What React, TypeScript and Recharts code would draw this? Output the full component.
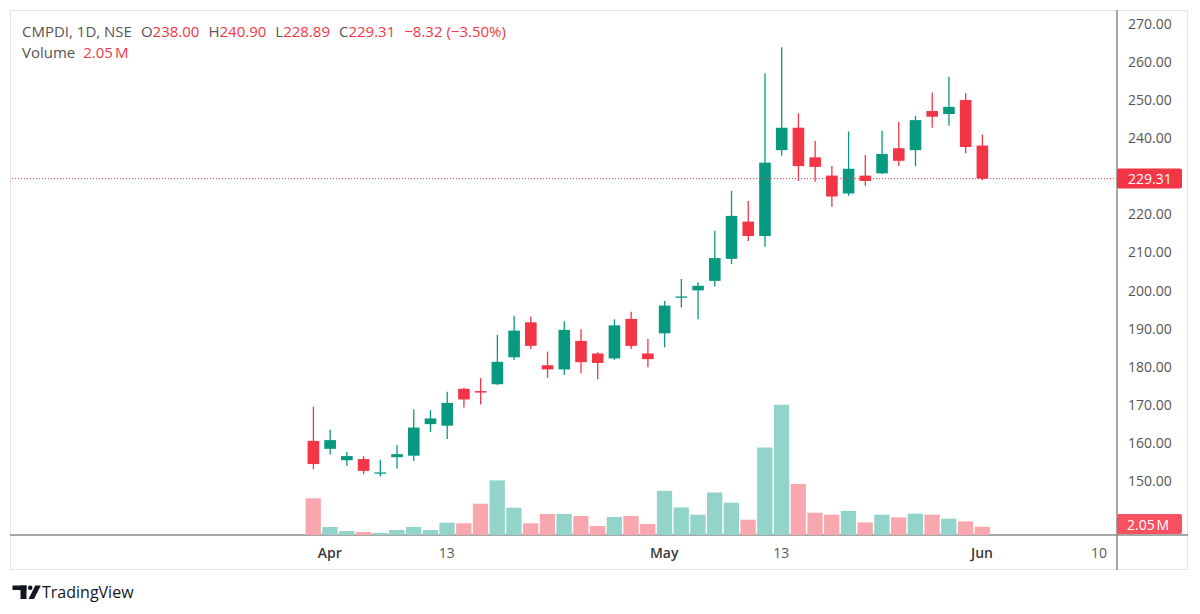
import { Bar, Cell, ComposedChart, ReferenceLine, XAxis, YAxis } from "recharts";

// daily OHLC (index 0 = last March session)
const opens = [
  160.3, 158.2, 155.2, 155.5, 151.8, 156.0, 156.4, 164.7, 164.3, 174.0, 173.4,
  175.2, 182.3, 191.5, 180.2, 179.1, 186.6, 183.3, 182.0, 192.4, 183.3, 188.6,
  198.0, 199.9, 202.4, 208.2, 218.0, 214.2, 236.8, 242.7, 234.9, 230.1, 225.4,
  230.1, 230.7, 237.3, 236.8, 247.1, 246.3, 250.0, 238.0,
];
const highs = [
  169.3, 163.2, 157.4, 156.3, 155.3, 159.2, 168.6, 168.4, 173.2, 174.3, 176.8,
  188.2, 193.2, 193.0, 183.8, 191.8, 189.7, 183.6, 192.3, 194.3, 187.1, 197.1,
  202.9, 202.0, 215.6, 226.1, 223.4, 257.0, 263.9, 246.5, 239.2, 232.6, 241.7,
  235.5, 241.9, 244.2, 245.8, 252.0, 256.1, 251.8, 240.9,
];
const lows = [
  152.8, 156.7, 153.7, 151.5, 150.9, 153.0, 155.0, 162.6, 160.8, 169.1, 169.9,
  175.0, 181.6, 184.5, 176.9, 177.6, 178.1, 176.5, 181.6, 184.5, 179.7, 184.9,
  195.4, 192.3, 200.9, 206.8, 212.9, 211.4, 235.3, 228.7, 228.5, 221.9, 224.8,
  227.4, 230.5, 232.6, 232.6, 242.7, 243.2, 236.0, 228.89,
];
const closes = [
  154.2, 160.5, 156.3, 152.4, 152.0, 156.8, 163.8, 166.2, 170.3, 171.2, 173.0,
  181.1, 189.3, 185.3, 179.1, 189.5, 181.0, 180.8, 190.7, 185.3, 181.8, 195.9,
  198.3, 201.1, 208.4, 219.5, 214.2, 233.5, 242.7, 232.6, 232.4, 224.6, 231.9,
  228.7, 235.8, 234.0, 244.7, 245.6, 248.2, 237.63, 229.31,
];
// volume in millions
const volumes = [
  9.07, 1.98, 0.99, 0.74, 0.49, 1.24, 1.98, 1.24, 3.04, 2.89, 7.73, 13.5, 6.74,
  2.89, 5.19, 5.19, 4.69, 2.22, 4.45, 4.69, 2.72, 10.9, 6.82, 5.01, 10.5, 7.98,
  3.78, 21.6, 32.2, 12.6, 5.51, 5.01, 5.93, 3.11, 5.01, 4.35, 5.26, 5.01, 4.03,
  3.36, 2.05,
];

const slotCount = 48; // sessions plus empty future slots
const tickSlots = [1, 8, 21, 28, 40, 47];
const tickLabels = ["Apr", "13", "May", "13", "Jun", "10"];
const monthLabels = ["Apr", "May", "Jun"];
const priceTicks = [140, 150, 160, 170, 180, 190, 200, 210, 220, 230, 240, 250, 260, 270];
const lastPrice = 229.31;
const lastVolume = 2.05;

const UP = "#089981";
const DOWN = "#f23645";
const VOL_UP = "#92d4c9";
const VOL_DOWN = "#f9a7ae";
const TEXT = "#555";

const MARGIN = { top: 10, right: 12, bottom: 44, left: 10 };
const X_PAD = { left: 294.6, right: 9.6 };
const PRICE_DOMAIN: [number, number] = [135.53, 273.68];
const VOL_DOMAIN: [number, number] = [0, 129.7];

const data = Array.from({ length: slotCount }, (_, i) =>
  i < opens.length
    ? { i, o: opens[i], h: highs[i], l: lows[i], c: closes[i], v: volumes[i] }
    : { i }
);

function Candle(props: any) {
  const { x, y, width, height, payload } = props;
  if (!payload || payload.o == null || !Number.isFinite(y)) return null;
  const { o, h, l, c } = payload;
  const k = height / (h - l);
  const py = (v: number) => y + (h - v) * k;
  const color = c >= o ? UP : DOWN;
  const cx = x + width / 2;
  const top = py(Math.max(o, c));
  const bottom = py(Math.min(o, c));
  return (
    <g>
      <line x1={cx} x2={cx} y1={y} y2={y + height} stroke={color} strokeWidth={1.3} />
      <rect x={x} y={top} width={width} height={Math.max(bottom - top, 1.3)} fill={color} />
    </g>
  );
}

function TimeTick(props: any) {
  const { x, y, payload } = props;
  const idx = tickSlots.indexOf(payload.value);
  if (idx < 0) return null;
  const label = tickLabels[idx];
  const month = monthLabels.includes(label);
  return (
    <text
      x={x}
      y={y + 17}
      textAnchor="middle"
      dominantBaseline="central"
      fontSize={14}
      fill={month ? "#3a3a3a" : "#5a5a5a"}
      fontWeight={month ? 600 : 400}
    >
      {label}
    </text>
  );
}

function PriceTick(props: any) {
  const { x, y, payload } = props;
  // the last-price tag hides the label right under it
  if (Math.abs(payload.value - lastPrice) < 2.6) return null;
  return (
    <text x={x + 11} y={y} dominantBaseline="central" fontSize={14} fill={TEXT}>
      {payload.value.toFixed(2)}
    </text>
  );
}

function PriceTag(props: any) {
  const vb = props.viewBox;
  if (!vb) return null;
  const left = vb.x + vb.width;
  return (
    <g>
      <rect x={left} y={vb.y - 10} width={65} height={20} rx={2} fill={DOWN} />
      <text x={left + 11} y={vb.y} dominantBaseline="central" fontSize={14} fill="#fff">
        {lastPrice.toFixed(2)}
      </text>
    </g>
  );
}

function VolumeTag(props: any) {
  const vb = props.viewBox;
  if (!vb) return null;
  const left = vb.x + vb.width;
  const cy = Math.min(vb.y, 524);
  return (
    <g>
      <rect x={left} y={cy - 10} width={65} height={20} rx={2} fill="#f5515f" />
      <text x={left + 10} y={cy} dominantBaseline="central" fontSize={14} fill="#fff">
        {lastVolume.toFixed(2)}
        {"\u202fM"}
      </text>
    </g>
  );
}

const layer: React.CSSProperties = { position: "absolute", left: 0, top: 0 };

export default function App() {
  return (
    <div
      style={{
        position: "absolute",
        left: 0,
        top: 0,
        width: 1200,
        height: 614,
        background: "#fff",
        fontFamily: "'Open Sans', sans-serif",
        overflow: "hidden",
      }}
    >
      <svg width={1200} height={614} style={layer}>
        <rect x={10.5} y={10.5} width={1177} height={559} fill="none" stroke="#e3e5ea" />
        <line x1={10} x2={1188} y1={535} y2={535} stroke="#8a8a8a" strokeWidth={1.5} />
        <line x1={1117} x2={1117} y1={10} y2={570} stroke="#8a8a8a" strokeWidth={1.5} />
        {/* TradingView mark */}
        <rect x={12.5} y={585.5} width={14} height={4.5} fill="#131722" />
        <rect x={20.5} y={585.5} width={6} height={13.5} fill="#131722" />
        <circle cx={30.2} cy={587.8} r={2.3} fill="#131722" />
        <polygon points="35.3,585.5 40.8,585.5 34,599 28.6,599" fill="#131722" />
        <text x={42} y={592} dominantBaseline="central" fontSize={16} fill="#131722">
          TradingView
        </text>
      </svg>

      <div style={layer}>
        <ComposedChart width={1200} height={614} data={data} margin={MARGIN}>
          <XAxis
            xAxisId="main"
            dataKey="i"
            type="category"
            height={35}
            padding={X_PAD}
            axisLine={false}
            tickLine={false}
            tickSize={0}
            tickMargin={0}
            interval={0}
            tick={<TimeTick />}
          />
          <XAxis xAxisId="vol" dataKey="i" type="category" hide padding={X_PAD} />
          <YAxis
            yAxisId="price"
            orientation="right"
            width={71}
            domain={PRICE_DOMAIN}
            allowDataOverflow
            ticks={priceTicks}
            interval={0}
            axisLine={false}
            tickLine={false}
            tickSize={0}
            tickMargin={0}
            tick={<PriceTick />}
          />
          <YAxis yAxisId="vol" hide domain={VOL_DOMAIN} allowDataOverflow />
          <Bar xAxisId="vol" yAxisId="vol" dataKey="v" barSize={15.3} isAnimationActive={false}>
            {data.map((d: any) => (
              <Cell key={d.i} fill={d.c >= d.o ? VOL_UP : VOL_DOWN} />
            ))}
          </Bar>
          <Bar
            xAxisId="main"
            yAxisId="price"
            dataKey={(d: any) => (d.o == null ? null : [d.l, d.h])}
            barSize={11.6}
            shape={<Candle />}
            isAnimationActive={false}
          />
          <ReferenceLine
            xAxisId="main"
            yAxisId="price"
            y={lastPrice}
            stroke={DOWN}
            strokeWidth={1}
            strokeDasharray="1 2"
          />
        </ComposedChart>
      </div>

      {/* price-scale tags, drawn above the axis labels */}
      <div style={layer}>
        <ComposedChart width={1200} height={614} data={data} margin={MARGIN}>
          <XAxis
            xAxisId="main"
            dataKey="i"
            type="category"
            height={35}
            padding={X_PAD}
            axisLine={false}
            tickLine={false}
            tick={false}
          />
          <YAxis
            yAxisId="price"
            orientation="right"
            width={71}
            domain={PRICE_DOMAIN}
            allowDataOverflow
            axisLine={false}
            tickLine={false}
            tick={false}
          />
          <YAxis yAxisId="vol" hide domain={VOL_DOMAIN} allowDataOverflow />
          <ReferenceLine
            xAxisId="main"
            yAxisId="price"
            y={lastPrice}
            stroke="none"
            label={<PriceTag />}
          />
          <ReferenceLine
            xAxisId="main"
            yAxisId="vol"
            y={lastVolume}
            stroke="none"
            label={<VolumeTag />}
          />
        </ComposedChart>
      </div>

      <div
        style={{
          position: "absolute",
          left: 22,
          top: 22,
          lineHeight: "18px",
          fontSize: 15,
          color: TEXT,
          whiteSpace: "nowrap",
        }}
      >
        <span>CMPDI, 1D, NSE</span>
        <span style={{ marginLeft: 9 }}>
          O<span style={{ color: DOWN }}>238.00</span>
        </span>
        <span style={{ marginLeft: 9 }}>
          H<span style={{ color: DOWN }}>240.90</span>
        </span>
        <span style={{ marginLeft: 9 }}>
          L<span style={{ color: DOWN }}>228.89</span>
        </span>
        <span style={{ marginLeft: 9 }}>
          C<span style={{ color: DOWN }}>229.31</span>
        </span>
        <span style={{ marginLeft: 9, color: DOWN }}>−8.32 (−3.50%)</span>
      </div>
      <div
        style={{
          position: "absolute",
          left: 22,
          top: 43,
          lineHeight: "18px",
          fontSize: 15,
          color: TEXT,
          whiteSpace: "nowrap",
        }}
      >
        Volume<span style={{ marginLeft: 8, color: DOWN }}>2.05{"\u202f"}M</span>
      </div>
    </div>
  );
}
